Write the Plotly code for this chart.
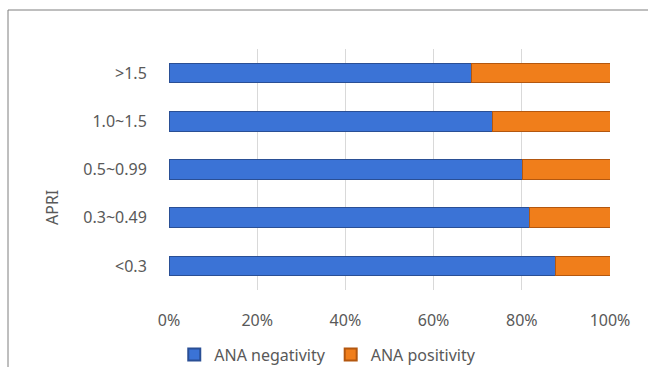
import plotly.graph_objects as go

categories = ["<0.3", "0.3~0.49", "0.5~0.99", "1.0~1.5", ">1.5"]
negativity = [0.876, 0.818, 0.802, 0.734, 0.686]
positivity = [0.124, 0.182, 0.198, 0.266, 0.314]
x_ticks = [0, 0.2, 0.4, 0.6, 0.8, 1.0]
x_tick_labels = ["0%", "20%", "40%", "60%", "80%", "100%"]

FONT = "Noto Sans, Open Sans, sans-serif"
GRAY = "#595959"

fig = go.Figure()
fig.add_trace(go.Bar(
    y=categories, x=negativity, orientation="h", name="ANA negativity",
    marker=dict(color="#3B73D6", line=dict(color="#2A4F95", width=1)),
))
fig.add_trace(go.Bar(
    y=categories, x=positivity, orientation="h", name="ANA positivity",
    marker=dict(color="#F07E1B", line=dict(color="#B3570F", width=1)),
))

fig.update_layout(
    barmode="stack",
    bargap=0.59,
    width=648, height=367,
    margin=dict(l=169, r=38, t=49, b=77, autoexpand=False),
    paper_bgcolor="white", plot_bgcolor="white",
    font=dict(family=FONT, color=GRAY, size=15),
    showlegend=True,
    legend=dict(orientation="h", x=0.36, xanchor="center", y=-0.268, yanchor="middle",
                font=dict(size=16, color=GRAY), itemwidth=30, traceorder="normal",
                itemsizing="constant", tracegroupgap=0),
    xaxis=dict(range=[0, 1], tickvals=x_ticks, ticktext=x_tick_labels,
               showgrid=True, gridcolor="#D9D9D9", gridwidth=1, zeroline=False,
               showline=False, ticks="outside", ticklen=16, tickcolor="white",
               tickfont=dict(size=16, color=GRAY)),
    yaxis=dict(categoryorder="array", categoryarray=categories,
               showgrid=False, zeroline=False, showline=False,
               ticks="outside", ticklen=18, tickcolor="rgba(0,0,0,0)",
               tickfont=dict(size=16, color=GRAY)),
    shapes=[dict(type="rect", xref="paper", yref="paper",
                 x0=(8 - 169) / 441, x1=(660 - 169) / 441,
                 y0=(290 - 380) / 241, y1=(290 - 10) / 241,
                 line=dict(color="#7F7F7F", width=1), layer="below")],
    annotations=[dict(text="APRI", xref="paper", yref="paper",
                      x=(52 - 169) / 441, y=(290 - 207) / 241, textangle=-90,
                      showarrow=False, xanchor="center", yanchor="middle",
                      font=dict(size=16, color=GRAY))],
)

fig.write_html("out.html")
